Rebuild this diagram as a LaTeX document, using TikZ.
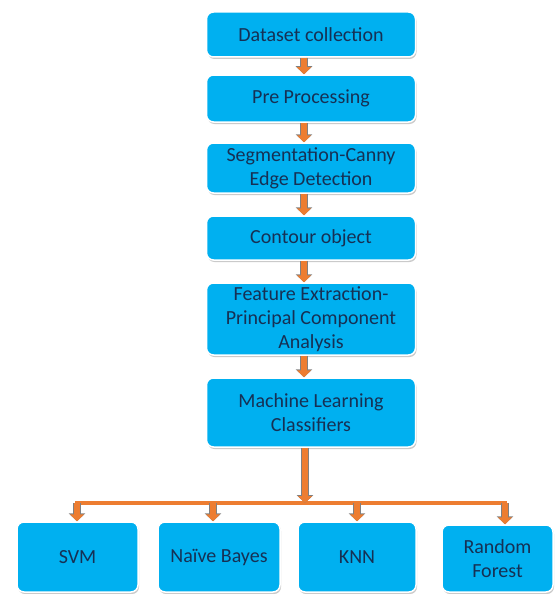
\documentclass[tikz,border=0pt]{standalone}
\usepackage{fontspec}
\setmainfont{Carlito}
\usepackage{xcolor}
\usetikzlibrary{arrows.meta,shadows}

\definecolor{boxblue}{RGB}{0,176,240}
\definecolor{boxtext}{RGB}{22,48,84}
\definecolor{arroworange}{RGB}{237,125,49}
\definecolor{arrowrim}{RGB}{128,128,128}

\tikzset{
  stepbox/.style={draw=white, line width=1.5pt, fill=boxblue, rounded corners=7pt,
    text=boxtext, align=center, inner sep=0pt, minimum width=209pt,
    font=\fontsize{20}{24}\selectfont,
    drop shadow={shadow xshift=1pt, shadow yshift=-2pt, opacity=0.35, fill=black!60}},
  classbox/.style={stepbox, minimum width=120pt, minimum height=70pt},
  flowarrow/.style={draw=arroworange, line width=6pt,
    -{Triangle[length=7pt,width=14pt]},
    preaction={draw=arrowrim, line width=7.5pt, -{Triangle[length=8pt,width=16.5pt]}}},
  busline/.style={draw=arroworange, line width=4.5pt}
}

\begin{document}
\begin{tikzpicture}[x=1pt,y=1pt,yscale=-1,xscale=1]
\useasboundingbox (0,0) rectangle (556,594);

%Shape: process steps
\node (data) [stepbox, minimum height=45pt] at (311,34.5) {Dataset collection};
\node (prep) [stepbox, minimum height=47pt] at (311,98.5) {Pre Processing};
\node (segm) [stepbox, minimum height=50pt] at (311,168) {Segmentation-Canny\\Edge Detection};
\node (cont) [stepbox, minimum height=44pt] at (311,238) {Contour object};
\node (feat) [stepbox, minimum height=72pt] at (311,319) {Feature Extraction-\\Principal Component\\Analysis};
\node (mlcl) [stepbox, minimum height=69pt] at (311,412.5) {Machine Learning\\Classifiers};

%Shape: classifiers
\node (svm) [classbox, minimum width=121pt] at (77.5,557) {SVM};
\node (nbay) [classbox, minimum width=122pt] at (219,557) {Naïve Bayes};
\node (knn) [classbox, minimum width=118pt] at (357,557) {KNN};
\node (rfor) [classbox, minimum width=111pt, minimum height=67pt] at (497.5,558.5) {Random\\Forest};

%Down Arrows between steps
\coordinate (axis) at (304,0);
\draw [flowarrow] (axis |- data.south) -- (axis |- prep.north);
\draw [flowarrow] (axis |- prep.south) -- (axis |- segm.north);
\draw [flowarrow] (axis |- segm.south) -- (axis |- cont.north);
\draw [flowarrow] (axis |- cont.south) -- (axis |- feat.north);
\draw [flowarrow] (axis |- feat.south) -- (axis |- mlcl.north);

%Bus to classifiers
\coordinate (busL) at (77,503);
\coordinate (busR) at (505,503);
\coordinate (busM) at (305,503);
\coordinate (tapN) at (213,503);
\coordinate (tapK) at (357,503);
\draw [busline] ([xshift=-2pt]busL) -- ([xshift=2pt]busR);
\draw [busline] (busL) -- ++(0,3);
\draw [busline] (busR) -- ++(0,3);
\draw [flowarrow] (busM |- mlcl.south) -- (busM);
\draw [flowarrow] (busL) -- (busL |- svm.north);
\draw [flowarrow] (tapN) -- (tapN |- nbay.north);
\draw [flowarrow] (tapK) -- (tapK |- knn.north);
\draw [flowarrow] (busR) -- (busR |- rfor.north);

\end{tikzpicture}
\end{document}
